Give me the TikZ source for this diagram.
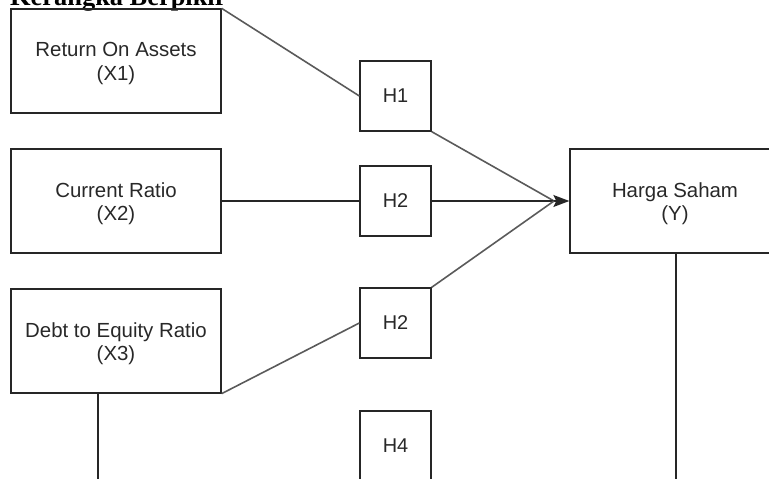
\documentclass[tikz,border=0pt]{standalone}
\usepackage{fontspec}
\setmainfont{Liberation Sans}
\newfontfamily\titlefont{Liberation Serif}
\usetikzlibrary{arrows.meta}
\definecolor{edgegray}{RGB}{90,90,90}
\definecolor{txt}{RGB}{40,40,40}
\begin{document}
\begin{tikzpicture}[x=1bp,y=-1bp,
  varbox/.style={draw=black!85,line width=1.3bp,minimum width=210bp,minimum height=104bp,inner sep=0pt},
  vtext/.style={align=center,text=txt,inner sep=0pt,font=\fontsize{20.5}{23.5}\selectfont},
  hbox/.style={draw=black!85,line width=1.3bp,minimum width=71bp,minimum height=70bp,inner sep=0pt,text=txt,font=\fontsize{20}{23}\selectfont},
  diag/.style={draw=edgegray,line width=1.6bp},
  straight/.style={draw=black!85,line width=1.3bp}]
\useasboundingbox (0,0) rectangle (769,479);
\begin{scope}
\clip (0,0) rectangle (769,479);
\node[anchor=base west,font=\titlefont\bfseries\fontsize{26.5}{30}\selectfont,inner sep=0pt] (title) at (10,5.5) {Kerangka Berpikir};
\node[varbox] (x1) at (116,61) {};
\node[varbox] (x2) at (116,201) {};
\node[varbox] (x3) at (116,341) {};
\node[varbox] (y) at (675,201) {};
\node[vtext] (x1t) at ([yshift=-2.5bp]x1.center) {Return On Assets\\(X1)};
\node[vtext] (x2t) at ([yshift=-2.5bp]x2.center) {Current Ratio\\(X2)};
\node[vtext] (x3t) at ([yshift=-2.5bp]x3.center) {Debt to Equity Ratio\\(X3)};
\node[vtext] (yt) at ([yshift=-2.5bp]y.center) {Harga Saham\\(Y)};
\node[hbox] (h1) at (395.5,96) {H1};
\node[hbox] (h2) at (395.5,201) {H2};
\node[hbox] (h3) at (395.5,323) {H2};
\node[hbox] (h4) at (395.5,446) {H4};
\coordinate (tip) at (554,201);
\coordinate (x3end) at (98,490);
\coordinate (yend) at (676,490);
\draw[diag] (x1.north east) -- (h1.west);
\draw[diag] (h1.south east) -- (tip);
\draw[straight] (x2.east) -- (h2.west);
\draw[straight,-{Stealth[length=16bp,width=12bp,inset=3bp]}] (h2.east) -- (y.west);
\draw[diag] (x3.south east) -- (h3.west);
\draw[diag] (h3.north east) -- (tip);
\draw[straight] (x3.south -| x3end) -- (x3end);
\draw[straight] (y.south -| yend) -- (yend);
\end{scope}
\end{tikzpicture}
\end{document}
